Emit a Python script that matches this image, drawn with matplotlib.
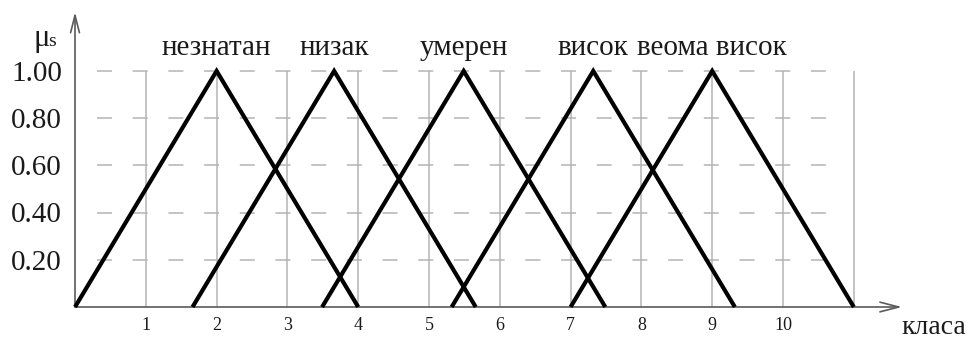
import matplotlib
matplotlib.use("Agg")
import matplotlib.pyplot as plt

# ---- data ----
set_names = ["незнатан", "низак", "умерен", "висок", "веома висок"]
set_starts = [0.0, 1.66, 3.49, 5.32, 7.0]
set_peaks = [2.0, 3.66, 5.49, 7.32, 9.0]
set_ends = [4.0, 5.66, 7.49, 9.32, 11.0]
y_ticks = [0.2, 0.4, 0.6, 0.8, 1.0]
y_tick_labels = ["0.20", "0.40", "0.60", "0.80", "1.00"]
x_ticks = [1, 2, 3, 4, 5, 6, 7, 8, 9, 10]
x_grid = [1, 2, 3, 4, 5, 6, 7, 8, 9, 10, 11]

plt.rcParams['lines.scale_dashes'] = False
serif = ['Liberation Serif', 'DejaVu Serif']
txt_color = '#1a1a1a'

W, H = 971, 342
fig = plt.figure(figsize=(W / 100, H / 100), dpi=100)
ax = fig.add_axes([0, 0, 1, 1])

# pixel mapping: x0 = 75px, 70.8 px/unit ; y0 = 307px, 236 px/unit
x0, sx = 75.0, 70.8
y0, sy = 307.0, 236.0
ax.set_xlim((0 - x0) / sx, (W - x0) / sx)
ax.set_ylim((y0 - H) / sy, y0 / sy)
ax.axis('off')

grid_c = '#b4b4b4'
# vertical grid lines
ax.vlines(x_grid, 0, 1.0, colors=grid_c, linewidth=1.1, zorder=1)
# horizontal dashed grid lines
ax.hlines(y_ticks, (97 - x0) / sx, (831 - x0) / sx, colors=grid_c,
          linewidth=1.1, linestyles=[(0, (10.8, 14.9))], zorder=1)

# axes with arrows
axis_c = '#5a5a5a'
ax.annotate('', xy=(0, (y0 - 12) / sy), xytext=(0, 0),
            arrowprops=dict(arrowstyle='->,head_length=1.25,head_width=0.32',
                            color=axis_c, lw=1.2, shrinkA=0, shrinkB=0), zorder=2)
ax.annotate('', xy=((902 - x0) / sx, 0), xytext=(0, 0),
            arrowprops=dict(arrowstyle='->,head_length=1.35,head_width=0.35',
                            color=axis_c, lw=1.2, shrinkA=0, shrinkB=0), zorder=2)

# triangles
for a, b, c in zip(set_starts, set_peaks, set_ends):
    ax.plot([a, b, c], [0, 1, 0], color='black', lw=3.0,
            solid_joinstyle='miter', solid_capstyle='butt', zorder=3)

# set labels
for name, p in zip(set_names, set_peaks):
    ax.text(p, (y0 - 55) / sy, name, ha='center', va='baseline',
            fontsize=21, family=serif, color=txt_color)

# y tick labels
for v, lab in zip(y_ticks, y_tick_labels):
    ax.text((62 - x0) / sx, v - 0.012, lab, ha='right', va='center',
            fontsize=21, family=serif, color=txt_color)

# x tick labels
for v in x_ticks:
    ax.text(v, (y0 - 325) / sy, str(v), ha='center', va='center',
            fontsize=13, family=serif, color=txt_color)

# axis labels
ax.text((33 - x0) / sx, (y0 - 46) / sy, 'μ', ha='left', va='baseline',
        fontsize=22, family=serif, color=txt_color)
ax.text((48 - x0) / sx, (y0 - 46) / sy, 's', ha='left', va='baseline',
        fontsize=14, family=serif, color=txt_color)
ax.text((966 - x0) / sx, (y0 - 334) / sy, 'класа', ha='right', va='baseline',
        fontsize=20, family=serif, color=txt_color)

fig.savefig('out.png', dpi=100)
